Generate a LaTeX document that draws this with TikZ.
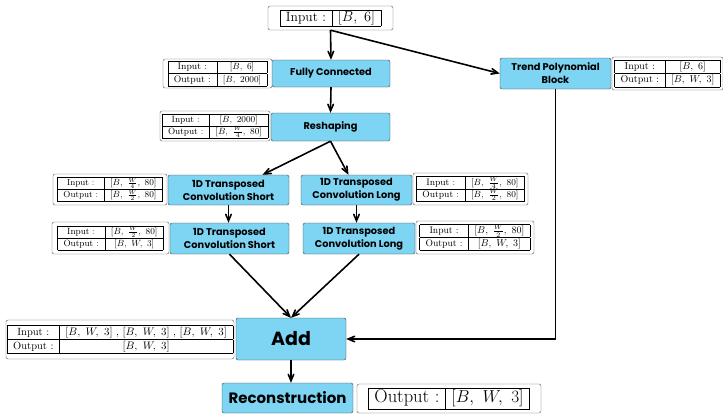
\documentclass[tikz,border=0pt]{standalone}
\usepackage{fontspec}
\usepackage{tikz}
\usetikzlibrary{calc}
\usetikzlibrary{arrows}
\usetikzlibrary{positioning}
\newfontfamily\poppins{Poppins}
\definecolor{blockblue}{RGB}{125,212,243}
\tikzset{block/.style={draw=black!75, fill=blockblue, rounded corners=2pt, align=center, inner sep=0pt, font=\poppins\bfseries\fontsize{9.8}{13}\selectfont}}
\tikzset{infobox/.style={draw=black!65, fill=white, rounded corners=2pt, inner sep=0pt}}
\tikzset{flow/.style={->, >=angle 45, line width=1.6pt}}
\newcommand{\iotab}[3]{{\fontsize{#1}{#1}\selectfont\renewcommand\arraystretch{1.3}\begin{tabular}{|c|c|}\hline Input : & #2\\\hline Output : & #3\\\hline\end{tabular}}}

\begin{document}
\begin{tikzpicture}[x=1pt,y=-1pt]
\useasboundingbox (0,0) rectangle (723,416);

    % main flow
    \node[infobox, minimum width=125pt, minimum height=24pt] (in) at (330.5,18)
        {\fontsize{13.5}{15}\selectfont\begin{tabular}{|c|c|}\hline Input : & $[B,\ 6]$\\\hline\end{tabular}};
    \node[block, minimum width=118pt, minimum height=27pt] (fc) at (331,73.5) {Fully Connected};
    \node[block, minimum width=119pt, minimum height=28pt] (resh) at (330.5,127) {Reshaping};
    \node[block, minimum width=111pt, minimum height=31pt] (trend) at (555.5,73.5) {Trend Polynomial\\Block};
    \node[block, minimum width=121pt, minimum height=30pt] (short1) at (228.5,190) {1D Transposed\\Convolution Short};
    \node[block, minimum width=111pt, minimum height=30pt] (long1) at (356.5,190) {1D Transposed\\Convolution Long};
    \node[block, minimum width=119pt, minimum height=31pt] (short2) at (229.5,238.5) {1D Transposed\\Convolution Short};
    \node[block, minimum width=112pt, minimum height=31pt] (long2) at (359,238.5) {1D Transposed\\Convolution Long};
    \node[block, minimum width=110pt, minimum height=42pt, font=\poppins\bfseries\fontsize{19}{22}\selectfont] (add) at (291,339) {Add};
    \node[block, minimum width=131pt, minimum height=30pt, font=\poppins\bfseries\fontsize{15}{18}\selectfont] (rec) at (287.5,398) {Reconstruction};

    % shape tables
    \node[infobox, minimum width=109pt, minimum height=29pt] (fcT) at (217.5,73.5) {\iotab{9.4}{$[B,\ 6]$}{$[B,\ 2000]$}};
    \node[infobox, minimum width=110pt, minimum height=30pt] (reshT) at (215,126) {\iotab{9}{$[B,\ 2000]$}{$[B,\ \frac{W}{4},\ 80]$}};
    \node[infobox, minimum width=111pt, minimum height=33pt] (trendT) at (667.5,73.5) {\iotab{10}{$[B,\ 6]$}{$[B,\ W,\ 3]$}};
    \node[infobox, minimum width=114pt, minimum height=31pt] (short1T) at (110,189.5) {\iotab{8.8}{$[B,\ \frac{W}{4},\ 80]$}{$[B,\ \frac{W}{2},\ 80]$}};
    \node[infobox, minimum width=115pt, minimum height=32pt] (long1T) at (470.5,189) {\iotab{9.3}{$[B,\ \frac{W}{4},\ 80]$}{$[B,\ \frac{W}{2},\ 80]$}};
    \node[infobox, minimum width=117pt, minimum height=32pt] (short2T) at (110.5,238) {\iotab{9}{$[B,\ \frac{W}{2},\ 80]$}{$[B,\ W,\ 3]$}};
    \node[infobox, minimum width=118pt, minimum height=33pt] (long2T) at (475,237.5) {\iotab{9.6}{$[B,\ \frac{W}{2},\ 80]$}{$[B,\ W,\ 3]$}};
    \node[infobox, minimum width=228pt, minimum height=39pt] (addT) at (120,339.5) {\iotab{10.5}{$[B,\ W,\ 3]$ , $[B,\ W,\ 3]$ , $[B,\ W,\ 3]$}{$[B,\ W,\ 3]$}};
    \node[infobox, minimum width=184pt, minimum height=29pt] (recT) at (449,398.5)
        {\fontsize{18.5}{20}\selectfont\begin{tabular}{|c|c|}\hline Output : & $[B,\ W,\ 3]$\\\hline\end{tabular}};

    % connectors
    \draw[flow] (in.south) -- (fc.north);
    \draw[flow] (in.south) -- (trend.west);
    \draw[flow] (fc.south) -- (resh.north);
    \draw[flow] (resh.south) -- ([xshift=34pt]short1.north);
    \draw[flow] (resh.south) -- ([xshift=-8pt]long1.north);
    \draw[flow] (short1.south) -- (short1.south |- short2.north);
    \draw[flow] (long1.south) -- (long1.south |- long2.north);
    \draw[flow] (short2.south) -- (add.north);
    \draw[flow] (long2.south) -- (add.north);
    \draw[flow] (trend.south) |- (add.east);
    \draw[flow] (add.south) -- (add.south |- rec.north);

\end{tikzpicture}
\end{document}
